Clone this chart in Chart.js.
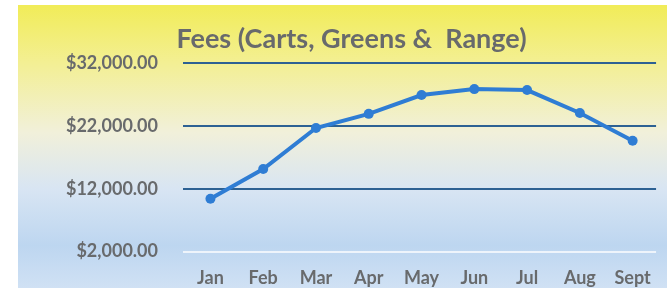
<!DOCTYPE html>
<html>
<head>
<meta charset="utf-8">
<script src="https://cdn.jsdelivr.net/npm/chart.js@4"></script>
<style>
  html, body { margin: 0; padding: 0; background: #fff; overflow: hidden; }
  #wrap { width: 667px; height: 292px; position: relative; }
</style>
</head>
<body>
<div id="wrap"><canvas id="feesChart"></canvas></div>
<script>
// --- Data ---
const months = ['Jan', 'Feb', 'Mar', 'Apr', 'May', 'Jun', 'Jul', 'Aug', 'Sept'];
const fees = [10400, 15150, 21700, 23950, 26950, 27900, 27750, 24100, 19650];
const yTicks = [2000, 12000, 22000, 32000];

// paint the yellow-to-blue panel behind the chart
const panelBg = {
    id: 'panelBg',
    beforeDraw(chart) {
        const ctx = chart.ctx;
        const g = ctx.createLinearGradient(0, 5, 0, 288);
        g.addColorStop(0, '#f1ec58');
        g.addColorStop(0.2, '#f3ef92');
        g.addColorStop(0.45, '#f1f0da');
        g.addColorStop(0.65, '#d8e5f3');
        g.addColorStop(0.85, '#bdd6f0');
        g.addColorStop(1, '#d0e1f4');
        ctx.save();
        ctx.fillStyle = g;
        ctx.fillRect(18, 5, 649, 283);
        ctx.restore();
    }
};

const labelFont = { family: 'Lato', size: 18, weight: 'bold' };
const textGrey = '#686a6c';

const ctx = document.getElementById('feesChart').getContext('2d');
const feesChart = new Chart(ctx, {
    type: 'line',
    data: {
        datasets: [{
            label: 'Fees',
            data: fees.map((v, i) => ({ x: i, y: v })),
            borderColor: '#2f7dd4',
            backgroundColor: '#2f7dd4',
            borderWidth: 4,
            pointRadius: 5,
            pointBackgroundColor: '#2f7dd4',
            pointBorderWidth: 0,
            tension: 0
        }]
    },
    options: {
        responsive: true,
        maintainAspectRatio: false,
        animation: false,
        layout: { padding: { left: 36, right: 0, top: 0, bottom: 0 } },
        plugins: {
            legend: { display: false },
            tooltip: { enabled: false },
            title: {
                display: true,
                text: 'Fees (Carts, Greens &  Range)',
                color: textGrey,
                font: { family: 'Lato', size: 27, weight: 'bold' },
                padding: { top: 23, bottom: 8 }
            }
        },
        scales: {
            x: {
                type: 'linear',
                min: -0.52,
                max: 8.444,
                grid: { display: false, drawTicks: false },
                border: { display: false },
                afterBuildTicks: (scale) => {
                    scale.ticks = months.map((_, i) => ({ value: i }));
                },
                afterFit: (scale) => { scale.height = 40.5; },
                ticks: {
                    autoSkip: false,
                    maxRotation: 0,
                    padding: 16,
                    color: textGrey,
                    font: labelFont,
                    callback: (v) => months[v] ?? ''
                }
            },
            y: {
                min: 2000,
                max: 32000,
                afterBuildTicks: (scale) => {
                    scale.ticks = yTicks.map(v => ({ value: v }));
                },
                afterFit: (scale) => { scale.width = 147; },
                grid: {
                    drawTicks: false,
                    lineWidth: 2,
                    color: (c) => c.tick && c.tick.value === 2000 ? '#eef4fb' : '#2d6193'
                },
                border: { display: false },
                ticks: {
                    padding: 25,
                    color: textGrey,
                    font: labelFont,
                    callback: (v) => '$' + v.toLocaleString('en-US', { minimumFractionDigits: 2, maximumFractionDigits: 2 })
                }
            }
        }
    },
    plugins: [panelBg]
});
</script>
</body>
</html>
